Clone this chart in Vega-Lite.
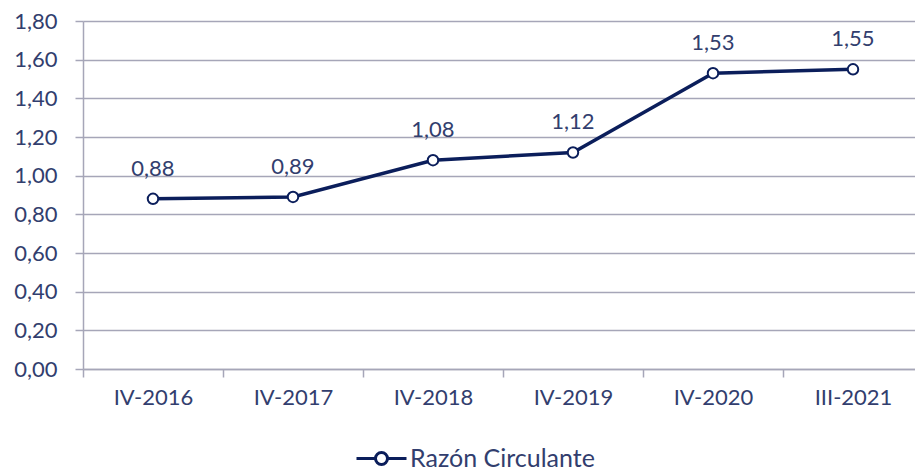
{
  "$schema": "https://vega.github.io/schema/vega-lite/v6.json",
  "width": 840,
  "height": 348,
  "autosize": {"type": "none"},
  "padding": {"left": 83, "top": 21, "right": 0, "bottom": 103},
  "background": "white",
  "config": {
    "font": "Lato",
    "locale": {"number": {"decimal": ",", "thousands": ".", "grouping": [3], "currency": ["", " €"]}},
    "view": {"stroke": null},
    "axis": {
      "labelFont": "Lato",
      "labelFontSize": 22,
      "labelColor": "#323E6E",
      "domainColor": "#A6A6B8",
      "tickColor": "#A6A6B8",
      "gridColor": "#A6A6B8",
      "domainWidth": 1.5,
      "tickWidth": 1.5,
      "gridWidth": 1.5,
      "tickSize": 8
    }
  },
  "data": {
    "values": [
      {"periodo": "IV-2016", "valor": 0.88, "serie": "Razón Circulante"},
      {"periodo": "IV-2017", "valor": 0.89, "serie": "Razón Circulante"},
      {"periodo": "IV-2018", "valor": 1.08, "serie": "Razón Circulante"},
      {"periodo": "IV-2019", "valor": 1.12, "serie": "Razón Circulante"},
      {"periodo": "IV-2020", "valor": 1.53, "serie": "Razón Circulante"},
      {"periodo": "III-2021", "valor": 1.55, "serie": "Razón Circulante"}
    ]
  },
  "encoding": {
    "x": {
      "field": "periodo",
      "type": "nominal",
      "sort": null,
      "title": null,
      "scale": {"type": "band", "paddingInner": 0, "paddingOuter": 0},
      "axis": {"labelAngle": 0, "tickBand": "extent", "labelPadding": 10, "grid": false, "domain": true}
    },
    "y": {
      "field": "valor",
      "type": "quantitative",
      "title": null,
      "scale": {"domain": [0, 1.8], "nice": false},
      "axis": {
        "values": [0, 0.2, 0.4, 0.6, 0.8, 1.0, 1.2, 1.4, 1.6, 1.8],
        "format": ".2f",
        "grid": true,
        "labelPadding": 18,
        "domain": true
      }
    }
  },
  "layer": [
    {
      "mark": {"type": "line", "strokeWidth": 3.5},
      "encoding": {
        "stroke": {
          "field": "serie",
          "type": "nominal",
          "scale": {"range": ["#0B1E5B"]},
          "legend": {
            "title": null,
            "orient": "none",
            "legendX": 272,
            "legendY": 411,
            "symbolType": "M-1,0L-0.24,0M0.24,0L1,0M0.24,0A0.24,0.24 0 1,1 -0.24,0A0.24,0.24 0 1,1 0.24,0Z",
            "symbolSize": 2500,
            "symbolStrokeWidth": 3,
            "symbolFillColor": "white",
            "symbolStrokeColor": "#0B1E5B",
            "labelFont": "Lato",
            "labelFontSize": 25,
            "labelColor": "#323E6E",
            "labelLimit": 400,
            "labelOffset": 2
          }
        }
      }
    },
    {
      "mark": {"type": "point", "filled": true, "fill": "white", "stroke": "#0B1E5B", "strokeWidth": 2, "size": 110, "opacity": 1}
    },
    {
      "mark": {"type": "text", "font": "Lato", "fontSize": 22, "color": "#323E6E", "dy": -30},
      "encoding": {
        "text": {"field": "valor", "type": "quantitative", "format": ".2f"}
      }
    }
  ]
}
